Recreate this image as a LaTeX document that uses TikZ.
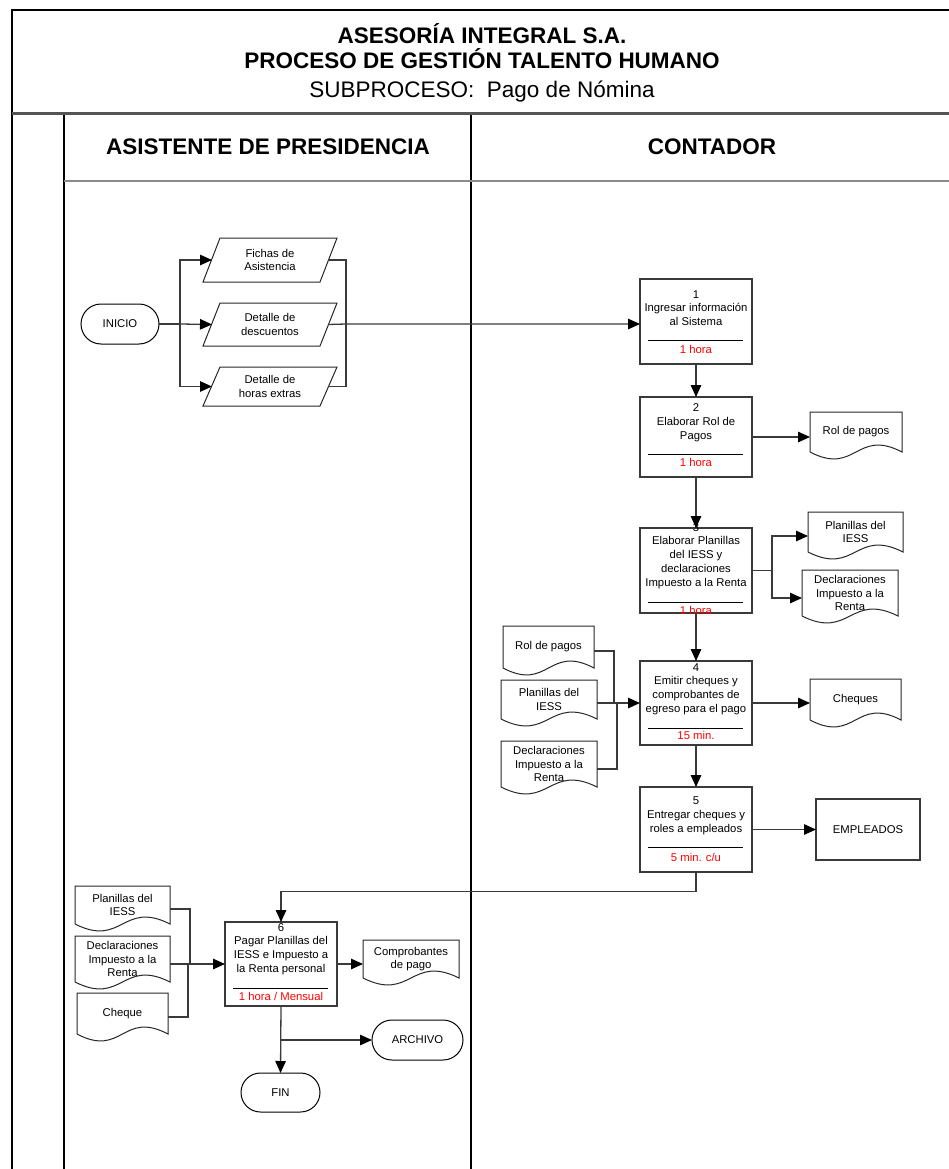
\documentclass[tikz,border=0pt]{standalone}
\usepackage{fontspec}
\setmainfont{Liberation Sans}
\usetikzlibrary{arrows.meta,calc,shapes.misc}
\definecolor{linegray}{HTML}{3A3A3A}
\definecolor{framegray}{HTML}{555555}
\definecolor{headgray}{HTML}{8A8A8A}
\definecolor{timered}{HTML}{FF0000}

\begin{document}
\begin{tikzpicture}[x=1pt,y=-1pt,
  every node/.style={inner sep=0pt, outer sep=0pt},
  txt/.style={font=\fontsize{11.3}{13.8}\selectfont, align=center},
  time/.style={txt, text=timered},
  proc/.style={draw=linegray, line width=1.1pt, minimum width=112pt, minimum height=85pt},
  term/.style={txt, rounded rectangle, draw=black, line width=1pt, minimum width=78pt, minimum height=40pt},
  docbox/.style={txt, minimum width=#1},
  outline/.style={draw=black!85, line width=1pt},
  rule/.style={draw=black, line width=1pt},
  edge/.style={draw=linegray, line width=1.3pt},
  arr/.style={edge, -{Triangle[length=12pt,width=10.5pt,color=black]}},
  title/.style={font=\fontsize{22.5}{27}\selectfont\bfseries, anchor=base},
  subtitle/.style={font=\fontsize{22.5}{27}\selectfont, anchor=base},
  lanehead/.style={font=\fontsize{22.5}{27}\selectfont\bfseries, anchor=base}
]
\useasboundingbox (0,0) rectangle (949,1169);

% ---------- frame, title block and lanes ----------
\draw[black, line width=1.5pt] (12,1169) -- (12,10) -- (949,10);
\draw[framegray, line width=3pt] (12,114) -- (949,114);
\draw[black, line width=1.4pt] (64,115.5) -- (64,1169);
\draw[black, line width=1.4pt] (471,115.5) -- (471,1169);
\draw[headgray, line width=2pt] (64,181) -- (949,181);

\node[title] (t1) at (482,43.5) {ASESORÍA INTEGRAL S.A.};
\node[title] (t2) at (482,69) {PROCESO DE GESTIÓN TALENTO HUMANO};
\node[subtitle] (t3) at (482,97.5) {SUBPROCESO:~ Pago de Nómina};
\node[lanehead] (h1) at (268,155) {ASISTENTE DE PRESIDENCIA};
\node[lanehead] (h2) at (712,155) {CONTADOR};

% ---------- start and input records ----------
\node[term] (ini) at (120,324) {INICIO};
\node[txt, minimum width=134pt, minimum height=44pt] (fa) at (270,260) {Fichas de\\Asistencia};
\node[txt, minimum width=134pt, minimum height=43pt] (dd) at (270,324.5) {Detalle de\\descuentos};
\node[txt, minimum width=134pt, minimum height=39pt] (hx) at (270,386.5) {Detalle de\\horas extras};
\foreach \p in {fa,dd,hx}
  \draw[outline] (\p.south west) -- ($(\p.north west)+(17,0)$) -- (\p.north east)
        -- ($(\p.south east)+(-17,0)$) -- cycle;

% ---------- process steps ----------
\node[proc] (p1) at (696,321.5) {};
\node[txt] (p1t) at (696,308) {1\\Ingresar información\\al Sistema};
\draw[rule] ($(p1.north west)+(8,61)$) -- ($(p1.north east)+(-9,61)$);
\node[time] (p1h) at (696,349) {1 hora};

\node[proc, minimum height=80pt] (p2) at (696,437) {};
\node[txt] (p2t) at (696,422.5) {2\\Elaborar Rol de\\Pagos};
\draw[rule] ($(p2.north west)+(8,57)$) -- ($(p2.north east)+(-9,57)$);
\node[time] (p2h) at (696,462) {1 hora};

\node[proc] (p3) at (696,570.5) {};
\node[txt] (p3t) at (696,556) {3\\Elaborar Planillas\\del IESS y\\declaraciones\\Impuesto a la Renta};
\draw[rule] ($(p3.north west)+(8,74)$) -- ($(p3.north east)+(-9,74)$);
\node[time] (p3h) at (696,610) {1 hora};

\node[proc, minimum height=84pt] (p4) at (696,703) {};
\node[txt] (p4t) at (696,689) {4\\Emitir cheques y\\comprobantes de\\egreso para el pago};
\draw[rule] ($(p4.north west)+(8,67)$) -- ($(p4.north east)+(-9,67)$);
\node[time] (p4h) at (696,735) {15 min.};

\node[proc] (p5) at (696,829.5) {};
\node[txt] (p5t) at (696,816) {5\\Entregar cheques y\\roles a empleados};
\draw[rule] ($(p5.north west)+(8,60)$) -- ($(p5.north east)+(-9,60)$);
\node[time] (p5h) at (696,857) {5 min. c/u};

\node[proc, minimum height=84pt] (p6) at (281,964) {};
\node[txt] (p6t) at (281,949) {6\\Pagar Planillas del\\IESS e Impuesto a\\la Renta personal};
\draw[rule] ($(p6.north west)+(8,66)$) -- ($(p6.north east)+(-9,66)$);
\node[time] (p6h) at (281,996) {1 hora / Mensual};

% ---------- documents ----------
\node[docbox=92pt, minimum height=40pt] (rolA) at (856,432) {Rol de pagos};
\node[docbox=95pt, minimum height=40pt] (plA) at (855.5,532) {Planillas del\\IESS};
\node[docbox=96pt, minimum height=46pt] (decA) at (850,593) {Declaraciones\\Impuesto a la\\Renta};
\node[docbox=91pt, minimum height=41pt] (chq) at (855.5,699.5) {Cheques};
\node[docbox=91pt, minimum height=42pt] (rolB) at (548.5,647) {Rol de pagos};
\node[docbox=96pt, minimum height=39pt] (plB) at (549,699.5) {Planillas del\\IESS};
\node[docbox=96pt, minimum height=46pt] (decB) at (549,764) {Declaraciones\\Impuesto a la\\Renta};
\node[docbox=95pt, minimum height=38pt] (plC) at (122.5,905) {Planillas del\\IESS};
\node[docbox=95pt, minimum height=46pt] (decC) at (122.5,959) {Declaraciones\\Impuesto a la\\Renta};
\node[docbox=91pt, minimum height=41pt] (chqC) at (122.5,1013.5) {Cheque};
\node[docbox=96pt, minimum height=38pt] (comp) at (411,959) {Comprobantes\\de pago};
\foreach \d in {rolA,plA,decA,chq,rolB,plB,decB,plC,decC,chqC,comp}
  \draw[outline] (\d.south west) -- (\d.north west) -- (\d.north east) -- (\d.south east)
        .. controls ($(\d.south)+(0,-24)$) and ($(\d.south)+(0,24)$) .. (\d.south west);

% ---------- other ends ----------
\node[txt, draw=linegray, line width=1.1pt, minimum width=104pt, minimum height=61pt] (emp) at (868,829.5) {EMPLEADOS};
\node[term, minimum width=91pt] (arc) at (417.5,1040) {ARCHIVO};
\node[term, minimum width=79pt, minimum height=39pt] (fin) at (280.5,1092.5) {FIN};

% ---------- connectors ----------
\coordinate (bIn) at (180,324);
\coordinate (bOut) at (346,324);
\draw[edge] (ini.east) -- (bIn);
\draw[arr] (bIn) |- ($(fa.west)+(9,0)$);
\draw[arr] (bIn) -- ($(dd.west)+(9,0)$);
\draw[arr] (bIn) |- ($(hx.west)+(9,0)$);
\draw[edge] ($(fa.east)+(-9,0)$) -| (bOut);
\draw[edge] ($(hx.east)+(-9,0)$) -| (bOut);
\draw[arr] ($(dd.east)+(-9,0)$) -- (bOut) -- (bOut -| p1.west);

\draw[arr] (p1.south) -- (p2.north);
\draw[arr] (p2.east) -- (p2.east -| rolA.west);
\draw[arr] (p2.south) -- (p3.north);

\coordinate (bP3) at (772,570.5);
\draw[edge] (p3.east) -- (bP3);
\draw[arr] (bP3) |- ($(plA.west)+(0,4)$);
\draw[arr] (bP3) |- ($(decA.west)+(0,5)$);
\draw[arr] (p3.south) -- (p4.north);

\coordinate (bRol) at (614,703);
\coordinate (bDec) at (617,703);
\draw[edge] ($(rolB.east)+(0,4)$) -| (bRol);
\draw[edge] ($(decB.east)+(0,5)$) -| (bDec);
\draw[arr] (plB.east |- p4.west) -- (p4.west);
\draw[arr] (p4.east) -- (p4.east -| chq.west);
\draw[arr] (p4.south) -- (p5.north);

\draw[arr] (p5.east) -- (emp.west);
\draw[arr] (p5.south) -- ++(0,19.5) -| (p6.north);

\coordinate (bPl) at (190,963);
\coordinate (bCh) at (188,963);
\draw[edge] ($(plC.east)+(0,4)$) -| (bPl);
\draw[edge] ($(chqC.east)+(0,3.5)$) -| (bCh);
\draw[arr] (decC.east |- p6.west) -- (p6.west);
\draw[arr] (p6.east) -- (p6.east -| comp.west);
\draw[arr] (p6.south) -- (fin.north);
\draw[arr] (p6.south |- arc.west) -- (arc.west);
\end{tikzpicture}
\end{document}
